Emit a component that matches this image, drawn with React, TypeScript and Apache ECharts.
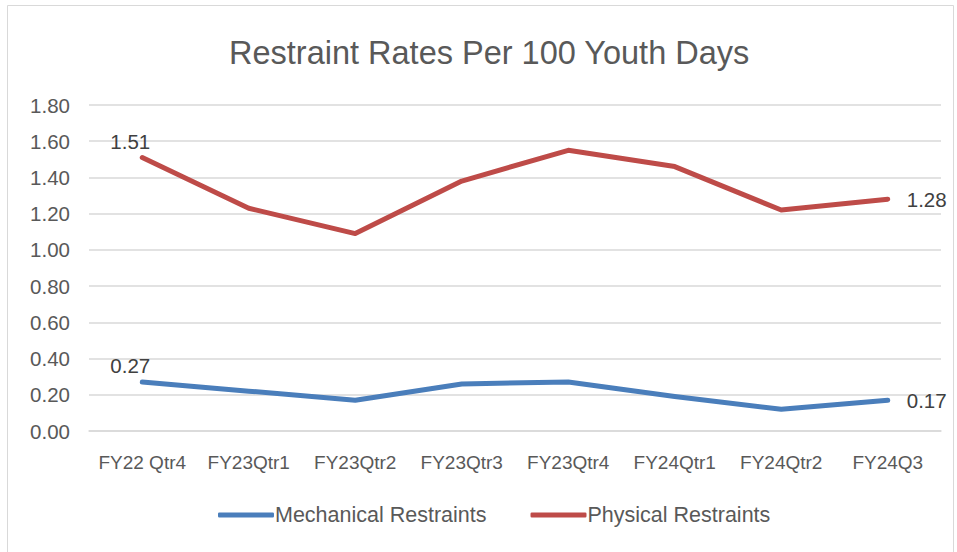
import React, { useEffect, useRef } from "react";
import * as echarts from "echarts";

const categories = ["FY22 Qtr4", "FY23Qtr1", "FY23Qtr2", "FY23Qtr3", "FY23Qtr4", "FY24Qtr1", "FY24Qtr2", "FY24Q3"];
const mechanical = [0.27, 0.22, 0.17, 0.26, 0.27, 0.19, 0.12, 0.17];
const physical = [1.51, 1.23, 1.09, 1.38, 1.55, 1.46, 1.22, 1.28];

const FONT = "'Liberation Sans', 'Open Sans', sans-serif";
const TXT = "#595959";

function withLabels(values: number[]) {
  const last = values.length - 1;
  return values.map((v, i) => {
    if (i === 0) {
      return { value: v, label: { show: true, position: "top", distance: 6, offset: [-12, 0], formatter: v.toFixed(2) } };
    }
    if (i === last) {
      return { value: v, label: { show: true, position: "right", distance: 19, formatter: v.toFixed(2) } };
    }
    return { value: v };
  });
}

export default function App() {
  const ref = useRef<HTMLDivElement>(null);
  useEffect(() => {
    if (!ref.current) return;
    const chart = echarts.init(ref.current, null, { renderer: "svg" });
    chart.setOption({
      animation: false,
      backgroundColor: "#ffffff",
      textStyle: { fontFamily: FONT },
      title: {
        text: "Restraint Rates Per 100 Youth Days",
        left: 224,
        top: 31,
        textStyle: { fontFamily: FONT, fontSize: 32.5, fontWeight: "normal", color: TXT },
      },
      graphic: [
        {
          type: "rect",
          shape: { x: 7.5, y: 5.5, width: 946, height: 548 },
          style: { fill: "none", stroke: "#d9d9d9", lineWidth: 1 },
          silent: true,
        },
      ],
      grid: { left: 89, right: 16, top: 105, bottom: 121 },
      legend: {
        bottom: 21,
        left: 213,
        itemWidth: 56,
        itemHeight: 5,
        itemGap: 44,
        icon: "roundRect",
        textStyle: { fontFamily: FONT, fontSize: 21.5, color: TXT, padding: [0, 0, 0, -4] },
        data: ["Mechanical Restraints", "Physical Restraints"],
      },
      xAxis: {
        type: "category",
        data: categories,
        boundaryGap: true,
        axisLine: { show: true, lineStyle: { color: "#d9d9d9", width: 1.5 } },
        axisTick: { show: false },
        axisLabel: { fontFamily: FONT, fontSize: 19, color: TXT, margin: 22, interval: 0 },
      },
      yAxis: {
        type: "value",
        min: 0,
        max: 1.8,
        interval: 0.2,
        axisLine: { show: false },
        axisTick: { show: false },
        splitLine: { lineStyle: { color: "#d9d9d9", width: 1.5 } },
        axisLabel: { fontFamily: FONT, fontSize: 20.5, color: TXT, margin: 19, formatter: (v: number) => v.toFixed(2) },
      },
      series: [
        {
          name: "Mechanical Restraints",
          type: "line",
          data: withLabels(mechanical),
          showSymbol: true,
          symbol: "circle",
          symbolSize: 0.01,
          lineStyle: { color: "#4a7ebb", width: 5, cap: "round", join: "round" },
          itemStyle: { color: "#4a7ebb" },
          label: { fontFamily: FONT, fontSize: 20.5, color: "#404040" },
        },
        {
          name: "Physical Restraints",
          type: "line",
          data: withLabels(physical),
          showSymbol: true,
          symbol: "circle",
          symbolSize: 0.01,
          lineStyle: { color: "#be4b48", width: 5, cap: "round", join: "round" },
          itemStyle: { color: "#be4b48" },
          label: { fontFamily: FONT, fontSize: 20.5, color: "#404040" },
        },
      ],
    });
    return () => chart.dispose();
  }, []);
  return <div ref={ref} style={{ position: "absolute", left: 0, top: 0, width: 957, height: 552 }} />;
}
